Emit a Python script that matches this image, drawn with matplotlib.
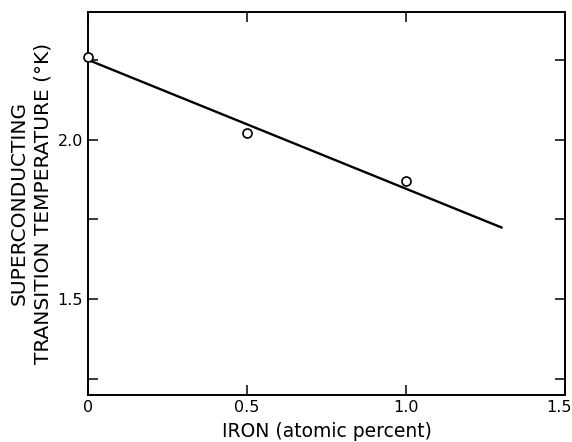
import numpy as np
import matplotlib.pyplot as plt
from matplotlib.transforms import ScaledTranslation

# measured points
iron = [0.0, 0.5, 1.0]
tc = [2.26, 2.02, 1.87]

# fitted line drawn in the figure
fit_x = [0.0, 1.3]
fit_y = [2.25, 1.725]

x_ticks = [0.0, 0.5, 1.0, 1.5]
x_labels = ['0', '0.5', '1.0', '1.5']
y_ticks = [1.25, 1.5, 1.75, 2.0, 2.25]
y_labels = ['', '1.5', '', '2.0', '']

plt.rcParams['font.family'] = ['DejaVu Sans']

fig = plt.figure(figsize=(5.72, 4.42), dpi=100)
ax = fig.add_axes([0.1538, 0.1063, 0.834, 0.8666])

ax.plot(fit_x, fit_y, color='black', lw=1.7, zorder=2)
ax.plot(iron, tc, 'o', mfc='white', mec='black', mew=1.2, ms=6.5,
        clip_on=False, zorder=3)

ax.set_xlim(0, 1.5)
ax.set_ylim(1.2, 2.4)
ax.set_xticks(x_ticks)
ax.set_xticklabels(x_labels, fontsize=11.5)
ax.set_yticks(y_ticks)
ax.set_yticklabels(y_labels, fontsize=11.5)
ax.tick_params(direction='in', length=7, width=1.1, top=True, right=True)

# keep the last x label inside the figure
last = ax.get_xticklabels()[-1]
last.set_transform(last.get_transform() + ScaledTranslation(-6 / 100, 0, fig.dpi_scale_trans))

for s in ax.spines.values():
    s.set_linewidth(1.4)

ax.set_xlabel('IRON (atomic percent)', fontsize=13.5, labelpad=5)
ax.set_ylabel('SUPERCONDUCTING\nTRANSITION TEMPERATURE (°K)', fontsize=14.5,
              labelpad=4, linespacing=1.3)

fig.savefig('out.png', dpi=100)
